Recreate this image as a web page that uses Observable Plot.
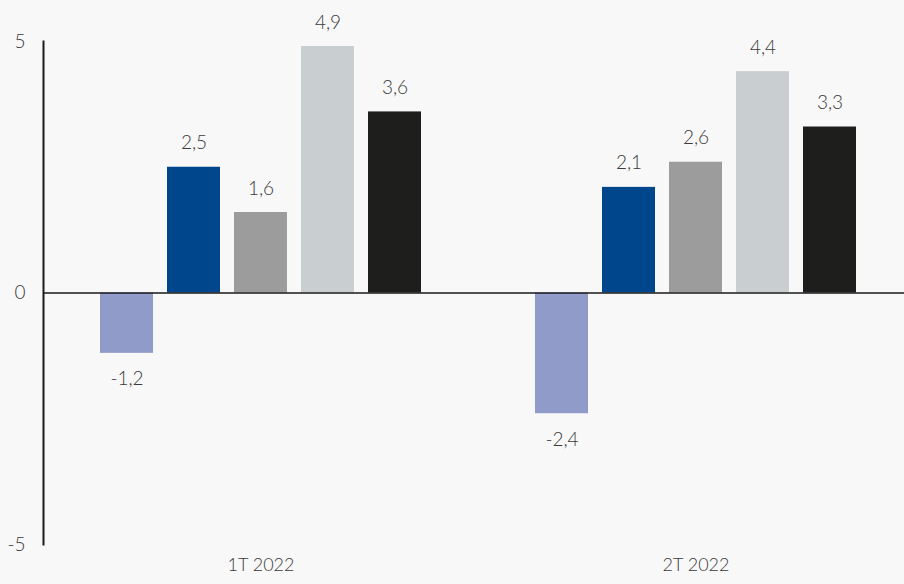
<!DOCTYPE html>
<html><head><meta charset="utf-8">
<script src="https://cdn.jsdelivr.net/npm/d3@7"></script>
<script src="https://cdn.jsdelivr.net/npm/@observablehq/plot@0.6"></script>
<style>
body{margin:0;background:#f8f8f8;}
#chart svg{display:block;overflow:hidden;}
</style></head>
<body><div id="chart"></div>
<script>
const quarters = ["1T 2022", "2T 2022"];
const series = ["S1", "S2", "S3", "S4", "S5"];
const colors = ["#919bc9", "#00468c", "#9c9c9c", "#c9ced1", "#1e1e1c"];
const values1T = [-1.2, 2.5, 1.6, 4.9, 3.6];
const values2T = [-2.4, 2.1, 2.6, 4.4, 3.3];
const yTicks = [-5, 0, 5];

const groups = [values1T, values2T];
const data = [];
quarters.forEach((q, i) => series.forEach((s, j) => data.push({q, s, v: groups[i][j]})));
const fmt = v => String(v).replace(".", ",");
const font = "Lato, 'Open Sans', sans-serif";

const chart = Plot.plot({
  width: 904, height: 584,
  marginLeft: 43, marginRight: -9, marginTop: 41, marginBottom: 40,
  style: {background: "#f8f8f8", fontFamily: font, fontSize: "19px", color: "#3a3a3a", fontWeight: 300},
  fx: {domain: quarters, paddingInner: 0, paddingOuter: 0, axis: null, label: null},
  x: {domain: series, paddingInner: 0.21, paddingOuter: 0.85, align: 0.5, axis: null, label: null},
  y: {domain: [-5, 5], label: null},
  color: {domain: series, range: colors},
  marks: [
    Plot.barY(data, {fx: "q", x: "s", y: "v", fill: "s"}),
    Plot.ruleY([0], {stroke: "#1a1a1a", strokeWidth: 1.5}),
    Plot.frame({anchor: "left", fx: () => quarters[0], stroke: "#1a1a1a", strokeWidth: 2}),
    Plot.axisY(yTicks, {anchor: "left", tickSize: 0, tickPadding: 18, tickFormat: d => String(d), label: null, fill: "#3a3a3a", fontSize: 19}),
    Plot.text(data.filter(d => d.v >= 0), {fx: "q", x: "s", y: "v", text: d => fmt(d.v), dy: -24, fill: "#3a3a3a"}),
    Plot.text(data.filter(d => d.v < 0), {fx: "q", x: "s", y: "v", text: d => fmt(d.v), dy: 26, fill: "#3a3a3a"}),
    Plot.text(quarters, {fx: d => d, frameAnchor: "bottom", dy: 26, text: d => d, fill: "#3a3a3a", fontSize: 18})
  ]
});
document.getElementById("chart").appendChild(chart);
</script>
</body></html>
